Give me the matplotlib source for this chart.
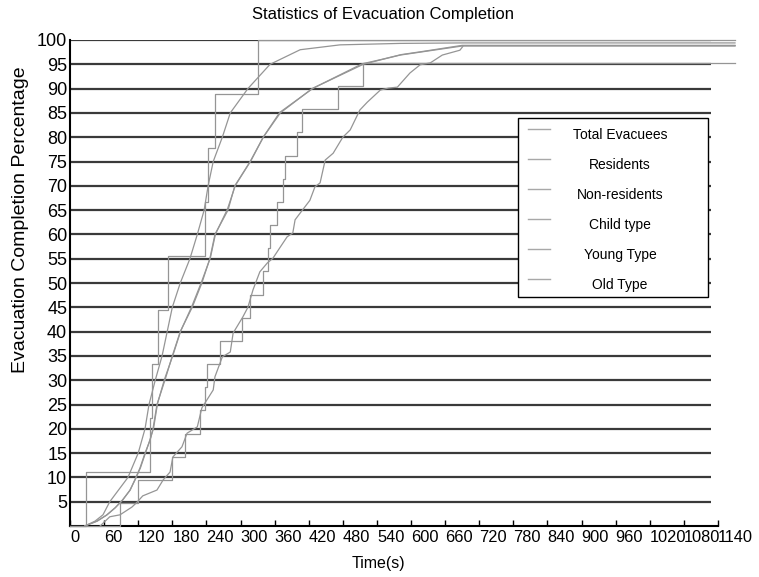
import numpy as np
import matplotlib.pyplot as plt
from matplotlib.patches import Rectangle
from matplotlib.lines import Line2D

plt.rcParams['font.family'] = ['Liberation Sans', 'DejaVu Sans']

T_END = 1170

# cumulative evacuation completion (%) vs time (s)
child_t = [0, 28, 141, 145, 155, 172, 238, 243, 255, 331, T_END]
child_p = [0, 11.1, 22.2, 33.3, 44.4, 55.6, 66.7, 77.8, 88.9, 100, 100]

old_t = [0, 88, 120, 180, 202, 229, 238, 241, 264, 303, 317, 340, 348, 352,
         364, 375, 378, 400, 408, 472, 516, T_END]
old_p = [0, 4.76, 9.52, 14.3, 19.0, 23.8, 28.6, 33.3, 38.1, 42.9, 47.6, 52.4,
         57.1, 61.9, 66.7, 71.4, 76.2, 81.0, 85.7, 90.5, 95.2, 95.2]

res_t = [26, 44, 58, 70, 102, 120, 132, 139, 150, 162, 171, 180, 194, 211,
         224, 236, 243, 252, 268, 282, 313, 352, 405, 475, 581, 692, T_END]
res_p = [0, 1, 2.3, 5, 10, 15, 20, 25, 30, 35, 40, 45, 50, 55,
         60, 65, 70, 75, 80, 85, 90, 95, 98, 99, 99.3, 99.4, 99.4]

total_t = [26, 48, 65, 79, 92, 106, 114, 123, 132, 141, 146, 153, 167, 180,
           194, 215, 232, 246, 255, 278, 290, 317, 340, 370, 426, 516, 546,
           581, 616, 692, T_END]
total_p = [0, 1, 2.3, 3.7, 5.3, 7.4, 9.5, 11.9, 15, 17.7, 20, 25, 30, 35,
           40, 45, 50, 55, 60, 65, 70, 75, 80, 85, 90, 95, 95.9,
           96.9, 97.5, 98.8, 98.8]

young_t = [26, 47, 64, 80, 93, 105, 115, 124, 133, 140, 147, 154, 166, 181,
           195, 214, 231, 247, 256, 277, 291, 318, 341, 369, 428, 514, 548,
           583, 618, 690, T_END]
young_p = [0, 1, 2.2, 3.8, 5.4, 7.3, 9.6, 12.0, 15.1, 17.5, 20.1, 25.2, 30.1, 35.1,
           40.2, 45.1, 50.1, 55.2, 60.1, 65.2, 70.1, 75.1, 80.2, 85.1, 90.1, 95.1, 96.0,
           97.0, 97.6, 98.9, 98.9]

nonres_t = [53, 70, 88, 109, 118, 128, 153, 164, 176, 181, 197, 206, 224, 232,
            252, 255, 268, 282, 287, 304, 313, 322, 334, 347, 357, 370, 382,
            392, 396, 405, 422, 431, 440, 449, 463, 480, 493, 510, 523, 546,
            560, 576, 598, 616, 634, 655, 686, 692, T_END]
nonres_p = [0, 1.9, 2.3, 3.9, 4.9, 6.2, 7.4, 9.5, 11.1, 14.2, 16.3, 19.1, 20.4, 24.3,
            28, 30.7, 34.8, 35.8, 39.7, 43, 45, 48.6, 52.3, 54.1, 55.1, 57.4, 59.5,
            60.3, 63, 64.4, 67, 69.8, 70.6, 75.3, 76.7, 80, 81.5, 85.6, 87.2, 89.7,
            90.1, 90.3, 93.2, 94.9, 95.3, 96.9, 97.9, 98.8, 98.8]

labels = ['Total Evacuees', 'Residents', 'Non-residents',
          'Child type', 'Young Type', 'Old Type']
x_ticks = list(range(0, 1141, 60))
y_ticks = list(range(5, 101, 5))

line_col = '#959595'
grid_col = '#3a3a3a'

fig = plt.figure(figsize=(7.59, 5.77), dpi=100)
ax = fig.add_axes([70 / 759, 51 / 577, 665 / 759, 486 / 577])

# horizontal grid lines, drawn under the curves
ax.hlines(y_ticks, 0, 1128, colors=grid_col, lw=1.6, zorder=1)

kw = dict(color=line_col, lw=0.9, zorder=3, clip_on=False)
ax.plot(total_t, total_p, **kw)
ax.plot(young_t, young_p, **kw)
ax.plot(res_t, res_p, **kw)
ax.plot(nonres_t, nonres_p, **kw)
ax.step(child_t, child_p, where='post', **kw)
ax.step(old_t, old_p, where='post', **kw)

ax.set_xlim(0, T_END)
ax.set_ylim(0, 100)

for s in ['top', 'right']:
    ax.spines[s].set_visible(False)
ax.spines['bottom'].set_bounds(0, 1140)
ax.spines['left'].set_linewidth(1.5)
ax.spines['bottom'].set_linewidth(1.5)

ax.set_xticks(x_ticks)
ax.set_yticks(y_ticks)
ax.tick_params(axis='x', direction='in', length=4, width=1, pad=3)
ax.tick_params(axis='y', length=0, pad=2)
for lab in ax.get_xticklabels():
    lab.set_family(['Liberation Sans Narrow', 'Liberation Sans'])
    lab.set_fontsize(11.8)
    lab.set_ha('left')
for lab in ax.get_yticklabels():
    lab.set_fontsize(13)

ax.set_ylabel('Evacuation Completion Percentage', fontsize=14)
ax.yaxis.set_label_coords(-0.062, 0.63)
ax.set_xlabel('Time(s)', fontsize=11.5)
ax.xaxis.set_label_coords((378 - 70) / 665, -0.062)

fig.text(383 / 759, 1 - 15 / 577, 'Statistics of Evacuation Completion',
         ha='center', va='center', fontsize=12)

# legend box with centred entries
x0, x1 = (518 - 70) / 665, (708 - 70) / 665
y0, y1 = (526 - 297) / 486, (526 - 118) / 486
ax.add_patch(Rectangle((x0, y0), x1 - x0, y1 - y0, transform=ax.transAxes,
                       facecolor='white', edgecolor='black', lw=1, zorder=5))
for i, name in enumerate(labels):
    yc = 135 + 30 * i
    yl = (526 - (yc - 6)) / 486
    ax.add_line(Line2D([(528 - 70) / 665, (550 - 70) / 665], [yl, yl],
                       transform=ax.transAxes, color='#a8a8a8', lw=1, zorder=6))
    ax.text((620 - 70) / 665, (526 - yc) / 486, name, transform=ax.transAxes,
            ha='center', va='center', fontsize=10, zorder=6)

fig.savefig('out.png', dpi=100)
